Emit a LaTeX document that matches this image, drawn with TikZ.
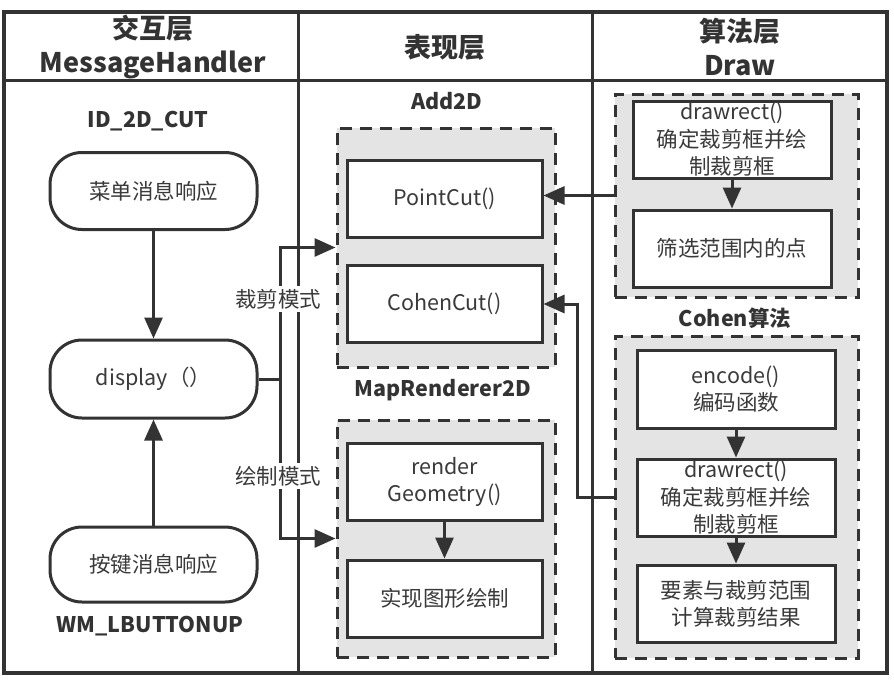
\documentclass[tikz,border=0pt]{standalone}
\usepackage{fontspec}
\setmainfont{Noto Sans CJK SC}
\usetikzlibrary{arrows.meta}
\definecolor{ink}{HTML}{333333}
\definecolor{txt}{HTML}{3A3A3A}
\definecolor{grp}{HTML}{E4E4E4}
\tikzset{
  line/.style={draw=ink, line width=3pt},
  box/.style={line, fill=white, minimum width=195pt, minimum height=77pt, inner sep=0pt, text=txt, font=\fontsize{21.5}{27}\selectfont, align=center},
  rbox/.style={box, rounded corners=32pt, minimum width=207pt},
  group/.style={draw=ink, line width=3pt, dash pattern=on 12pt off 8pt, fill=grp, inner sep=0pt},
  title/.style={font=\fontsize{21.5}{24}\bfseries\selectfont, text=ink},
  head/.style={font=\fontsize{27}{34}\bfseries\selectfont, text=ink, align=center},
  arr/.style={draw=ink, line width=3pt, -{Triangle[length=21pt,width=18pt]}},
  mode/.style={fill=white, inner sep=3pt, text=txt, font=\fontsize{21.5}{24}\selectfont},
  twolab/.style={label={[text=txt, font=\fontsize{21.5}{27.5}\selectfont, align=center]center:#1}},
}
\begin{document}
\begin{tikzpicture}[x=1pt,y=-1pt]
\useasboundingbox (0,0) rectangle (894,683);
% table
\draw[line, line width=3.5pt] (4,12) rectangle (887,673);
\draw[line] (4,80) -- (887,80);
\coordinate (c1t) at (298,12); \coordinate (c1b) at (298,673);
\coordinate (c2t) at (592,12); \coordinate (c2b) at (592,673);
\draw[line] (c1t) -- (c1b);
\draw[line] (c2t) -- (c2b);
\node[head] (h1) at (153,47) {交互层\\MessageHandler};
\node[head] (h2) at (445,47) {表现层};
\node[head] (h3) at (740,47) {算法层\\Draw};

% left column
\node[title] (id) at (148,121) {ID\_2D\_CUT};
\node[rbox] (menu) at (153.5,191) {菜单消息响应};
\node[rbox, minimum height=78pt] (disp) at (153.5,379) {display（）};
\node[rbox, minimum height=75pt] (key) at (153.5,564.5) {按键消息响应};
\node[title] (wm) at (150,626) {WM\_LBUTTONUP};
\draw[arr] (menu) -- (disp);
\draw[arr] (key) -- (disp);

% middle column
\node[title] (addt) at (447,101) {Add2D};
\node[group, minimum width=218pt, minimum height=239pt] (add) at (446,247.5) {};
\node[box] (pc) at (444.5,199) {PointCut()};
\node[box] (cc) at (444.5,304) {CohenCut()};
\node[title] (mapt) at (443,390) {MapRenderer2D};
\node[group, minimum width=218pt, minimum height=237pt] (map) at (446,538.5) {};
\node[box] (rg) at (444.5,481.5) {render\\Geometry()};
\node[box] (sx) at (444.5,598.5) {实现图形绘制};
\draw[arr] (rg) -- (sx);

% right column
\node[group, minimum width=243pt, minimum height=203pt] (g1) at (736.5,195.5) {};
\node[box, minimum width=198pt, twolab={drawrect()\\确定裁剪框并绘\\制裁剪框}] (dr1) at (732,139.5) {};
\node[box, minimum width=198pt] (sel) at (732,248.5) {筛选范围内的点};
\draw[arr] (dr1) -- (sel);
\node[title] (cht) at (735,318) {Cohen算法};
\node[group, minimum width=243pt, minimum height=322pt] (coh) at (736.5,497) {};
\node[box, minimum width=198pt, minimum height=78pt] (enc) at (736,389) {encode()\\编码函数};
\node[box, minimum width=198pt, twolab={drawrect()\\确定裁剪框并绘\\制裁剪框}] (dr2) at (736,497.5) {};
\node[box, minimum width=198pt] (ys) at (736,603.5) {要素与裁剪范围\\计算裁剪结果};
\draw[arr] (enc) -- (dr2);
\draw[arr] (dr2) -- (ys);

% connectors
\draw[arr] (disp.east) -- ++(22,0) |- (add.west);
\draw[arr] (disp.east) -- ++(22,0) |- (map.west);
\draw[arr] (g1.west) -- (g1.west -| pc.east);
\draw[arr] (coh.west) -- ++(-36,0) |- (cc.east);

\node[mode] (m1) at (278,299) {裁剪模式};
\node[mode] (m2) at (278,476) {绘制模式};
\end{tikzpicture}
\end{document}
